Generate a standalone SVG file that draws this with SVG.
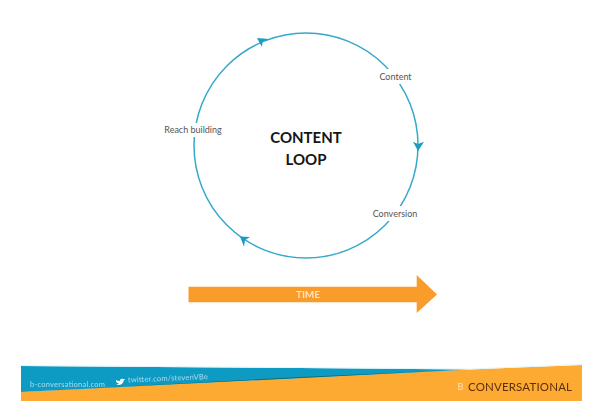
<svg xmlns="http://www.w3.org/2000/svg" width="600" height="405" viewBox="0 0 600 405">
<defs><filter id="b" x="-5%" y="-5%" width="110%" height="110%"><feGaussianBlur stdDeviation="0.5"/></filter></defs>
<style>
text{font-family:"Lato","Liberation Sans",sans-serif}
.lab{font-size:9px;fill:#555;text-anchor:middle}
.title{font-size:15px;font-weight:700;fill:#151515;text-anchor:middle}
.tip{fill:#1a9cc0}
</style>
<rect width="600" height="405" fill="#fff"/>
<g id="connectors" filter="url(#b)">
<ellipse cx="306" cy="145.500" rx="112" ry="112.500" fill="none" stroke="#35a9c9" stroke-width="1.500"/>
<polygon class="tip" points="269,39 257,38 262,47 262.500,41.500"/>
<polygon class="tip" points="418,151 413,141.700 418,144 424,141.700"/>
<polygon class="tip" points="240,236.500 250,237 245,240 244,246.700"/>
</g>
<g id="node-content"><rect x="378" y="69" width="36" height="15" fill="#fff"/><text class="lab" x="395.500" y="80">Content</text></g>
<g id="node-conversion"><rect x="372" y="206" width="46" height="15" fill="#fff"/><text class="lab" x="395" y="216.700">Conversion</text></g>
<g id="node-reach"><rect x="163" y="123" width="60" height="14" fill="#fff"/><text class="lab" x="193" y="133.300">Reach building</text></g>
<g id="node-title"><text class="title" x="306" y="142.700">CONTENT</text><text class="title" x="306" y="165">LOOP</text></g>
<g id="node-time" filter="url(#b)">
<polygon points="188.500,286.700 416.700,286.700 416.700,275 437,294.500 416.700,313 416.700,302.300 188.500,302.300" fill="#f99c2b"/>
<text x="308" y="298" font-size="10" font-weight="700" fill="#fde3c0" text-anchor="middle">TIME</text>
</g>
<g id="node-banner" filter="url(#b)">
<polygon points="21,392 470,369.500 582,365 582,401 21,401" fill="#fdaa33"/>
<polygon points="21,366 300,368 470,369.500 21,392" fill="#119bc4"/>
<polygon points="21,392 470,369.500 300,377" fill="#0f6f78"/>
<polygon points="21,365 300,367 470,368.500 582,364 582,365 470,369.500 300,368 21,366" fill="#e4f5fa"/>
<text x="30" y="386.700" font-size="7.500" fill="#a6dcec" textLength="75">b-conversational.com</text>
<text x="128" y="382.500" font-size="7.500" fill="#a6dcec" textLength="80" transform="rotate(-2.500 128 382)">twitter.com/stevenVBe</text>
<path d="M116 384q6 3 8-4l1-1-2 0q-3-1-3 2-3 0-4-1 0 2 1 3l1 0q1 1 1 1z" fill="#fff"/>
<text x="468" y="390.700" font-size="11.500" fill="#5d2f08" textLength="104">CONVERSATIONAL</text>
<text x="457.500" y="390" font-size="9" fill="#fde3c0">B</text>
</g>
</svg>
